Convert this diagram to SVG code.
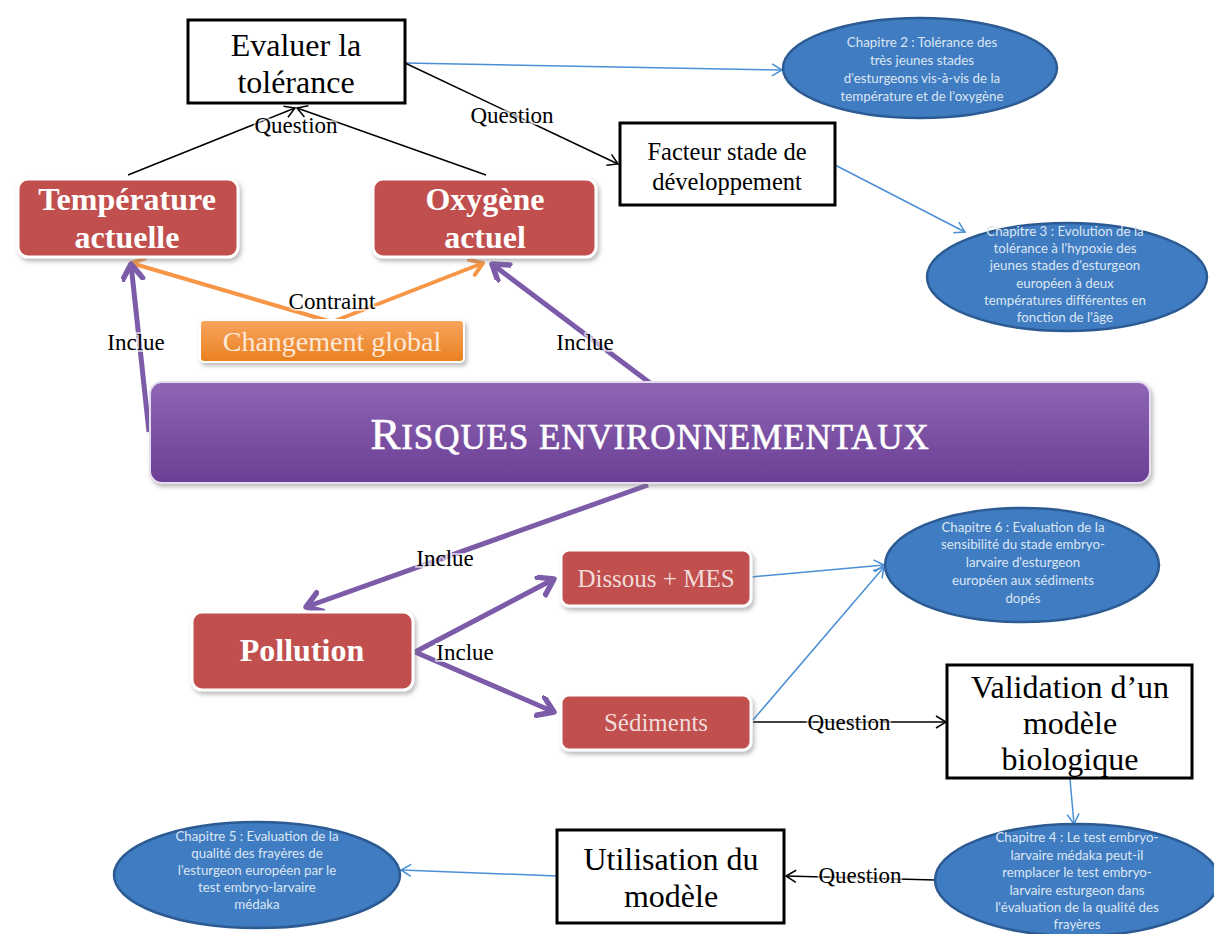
<svg xmlns="http://www.w3.org/2000/svg" width="1214" height="934" viewBox="0 0 1214 934">
<defs>
<style>
.box{fill:#fff;stroke:#000;stroke-width:3}
.red{fill:#c0504d;stroke:#fff;stroke-width:3;filter:url(#sh)}
.ell{fill:#3f7cc2;stroke:#2c5a92;stroke-width:2.5}
.et{font-family:Lato,"Liberation Sans",sans-serif;font-size:13.3px;fill:#dce6f2;text-anchor:middle}
.st{font-family:"Liberation Serif",serif;text-anchor:middle}
.bt{font-family:"Liberation Serif",serif;font-size:32px;text-anchor:middle;fill:#000}
.rt{font-family:"Liberation Serif",serif;font-weight:bold;font-size:32px;text-anchor:middle;fill:#fff}
.lbl{font-family:"Liberation Serif",serif;font-size:23px;text-anchor:middle;fill:#000;stroke:#fff;stroke-opacity:0.6;stroke-width:4;paint-order:stroke}
.pur{stroke:#7c5ca9;stroke-width:5;fill:none;marker-end:url(#ap)}
.org{stroke:#f79646;stroke-width:4;fill:none;marker-end:url(#ao)}
.blk{stroke:#000;stroke-width:1.5;fill:none;marker-end:url(#ak)}
.blu{stroke:#4a8fd6;stroke-width:1.5;fill:none;marker-end:url(#ab)}
</style>
<filter id="sh" x="-10%" y="-10%" width="125%" height="135%">
<feDropShadow dx="2" dy="3" stdDeviation="2" flood-color="#777" flood-opacity="0.5"/>
</filter>
<linearGradient id="gp" x1="0" y1="0" x2="0" y2="1">
<stop offset="0" stop-color="#8e66b4"/><stop offset="1" stop-color="#6b3f95"/>
</linearGradient>
<linearGradient id="go" x1="0" y1="0" x2="0" y2="1">
<stop offset="0" stop-color="#f9a55f"/><stop offset="1" stop-color="#e9801f"/>
</linearGradient>
<marker id="ap" markerUnits="userSpaceOnUse" markerWidth="30" markerHeight="30" refX="17" refY="11" orient="auto">
<path d="M2,1 L17,11 L2,21" fill="none" stroke="#7c5ca9" stroke-width="5.5" stroke-linecap="round" stroke-linejoin="round"/>
</marker>
<marker id="ao" markerUnits="userSpaceOnUse" markerWidth="30" markerHeight="30" refX="14" refY="9" orient="auto">
<path d="M2,1 L14,9 L2,17" fill="none" stroke="#f79646" stroke-width="4" stroke-linecap="round" stroke-linejoin="round"/>
</marker>
<marker id="ak" markerUnits="userSpaceOnUse" markerWidth="16" markerHeight="16" refX="11" refY="7" orient="auto">
<path d="M1,1 L11,7 L1,13" fill="none" stroke="#000" stroke-width="1.5"/>
</marker>
<marker id="ab" markerUnits="userSpaceOnUse" markerWidth="16" markerHeight="16" refX="11" refY="7" orient="auto">
<path d="M1,1 L11,7 L1,13" fill="none" stroke="#4a8fd6" stroke-width="1.5"/>
</marker>
</defs>
<rect width="1214" height="934" fill="#fff"/>

<g id="connectors">
<path class="blu" d="M405,63 L782,70"/>
<path class="blk" d="M405,63 L618,164"/>
<path class="blk" d="M128,175 L295,108"/>
<path class="blk" d="M486,175 L297,108"/>
<path class="blu" d="M835,165 L965,232"/>
<path class="org" d="M332,322 L131,263"/>
<path class="org" d="M332,322 L483,263"/>
<path class="pur" d="M149,432 L131,264"/>
<path class="pur" d="M650,383 L492,264"/>
<path class="pur" d="M648,485 L306,607"/>
<path class="pur" d="M415,652 L554,579"/>
<path class="pur" d="M415,652 L554,712"/>
<path class="blu" d="M751,577 L884,565"/>
<path class="blu" d="M753,720 L884,567"/>
<path class="blk" d="M753,722 L946,722"/>
<path class="blu" d="M1070,779 L1074,824"/>
<path class="blk" d="M935,880 L786,876"/>
<path class="blu" d="M557,876 L401,870"/>
</g>

<g id="labels">
<text class="lbl" x="296" y="133">Question</text>
<text class="lbl" x="512" y="123">Question</text>
<text class="lbl" x="332" y="309">Contraint</text>
<text class="lbl" x="136" y="350">Inclue</text>
<text class="lbl" x="585" y="350">Inclue</text>
<text class="lbl" x="445" y="566">Inclue</text>
<text class="lbl" x="465" y="660">Inclue</text>
<text class="lbl" x="849" y="730">Question</text>
<text class="lbl" x="860" y="883">Question</text>
</g>

<g id="evaluer">
<rect class="box" x="188" y="20" width="217" height="83"/>
<text class="bt" x="296" y="56">Evaluer la</text>
<text class="bt" x="296" y="93">tolérance</text>
</g>

<g id="ch2">
<ellipse class="ell" cx="920" cy="68" rx="137" ry="50"/>
<text class="et" x="922" y="47">Chapitre 2 : Tolérance des</text>
<text class="et" x="922" y="65">très jeunes stades</text>
<text class="et" x="922" y="83">d'esturgeons vis-à-vis de la</text>
<text class="et" x="922" y="101">température et de l'oxygène</text>
</g>

<g id="facteur">
<rect class="box" x="620" y="123" width="215" height="82"/>
<text class="st" x="727" y="160" font-size="24.5">Facteur stade de</text>
<text class="st" x="727" y="190" font-size="24.5">développement</text>
</g>

<g id="ch3">
<ellipse class="ell" cx="1067" cy="277" rx="140" ry="54"/>
<text class="et" x="1065" y="236">Chapitre 3 : Evolution de la</text>
<text class="et" x="1065" y="253">tolérance à l'hypoxie des</text>
<text class="et" x="1065" y="270">jeunes stades d'esturgeon</text>
<text class="et" x="1065" y="288">européen à deux</text>
<text class="et" x="1065" y="305">températures différentes en</text>
<text class="et" x="1065" y="322">fonction de l'âge</text>
</g>

<g id="temperature">
<rect class="red" x="18" y="179" width="220" height="78" rx="10"/>
<text class="rt" x="127" y="210">Température</text>
<text class="rt" x="127" y="248">actuelle</text>
</g>

<g id="oxygene">
<rect class="red" x="373" y="179" width="223" height="78" rx="10"/>
<text class="rt" x="485" y="210">Oxygène</text>
<text class="rt" x="485" y="248">actuel</text>
</g>

<g id="changement">
<rect x="200" y="320" width="264" height="42" rx="4" fill="url(#go)" stroke="#fff" stroke-width="2" filter="url(#sh)"/>
<text class="st" x="332" y="351" font-size="28" fill="#fde9d9">Changement global</text>
</g>

<g id="risques">
<rect x="150" y="382" width="1000" height="101" rx="12" fill="url(#gp)" stroke="#e6dcef" stroke-width="2" filter="url(#sh)"/>
<text class="st" x="650" y="449" fill="#fff" stroke="#fff" stroke-width="0.6" letter-spacing="0.9"><tspan font-size="45">R</tspan><tspan font-size="35">ISQUES ENVIRONNEMENTAUX</tspan></text>
</g>

<g id="pollution">
<rect class="red" x="192" y="612" width="221" height="78" rx="10"/>
<text class="rt" x="302" y="661" font-size="32">Pollution</text>
</g>

<g id="dissous">
<rect class="red" x="561" y="550" width="190" height="56" rx="8"/>
<text class="st" x="656" y="587" font-size="25" fill="#f2dcdb">Dissous + MES</text>
</g>

<g id="sediments">
<rect class="red" x="561" y="695" width="190" height="55" rx="8"/>
<text class="st" x="656" y="731" font-size="25" fill="#f2dcdb">Sédiments</text>
</g>

<g id="ch6">
<ellipse class="ell" cx="1022" cy="565" rx="137" ry="57"/>
<text class="et" x="1023" y="532">Chapitre 6 : Evaluation de la</text>
<text class="et" x="1023" y="549">sensibilité du stade embryo-</text>
<text class="et" x="1023" y="567">larvaire d'esturgeon</text>
<text class="et" x="1023" y="585">européen aux sédiments</text>
<text class="et" x="1023" y="603">dopés</text>
</g>

<g id="validation">
<rect class="box" x="947" y="665" width="245" height="113"/>
<text class="bt" x="1070" y="698">Validation d’un</text>
<text class="bt" x="1070" y="734">modèle</text>
<text class="bt" x="1070" y="770">biologique</text>
</g>

<g id="ch4">
<ellipse class="ell" cx="1077" cy="880" rx="142" ry="56"/>
<text class="et" x="1077" y="842">Chapitre 4 : Le test embryo-</text>
<text class="et" x="1077" y="860">larvaire médaka peut-il</text>
<text class="et" x="1077" y="877">remplacer le test embryo-</text>
<text class="et" x="1077" y="895">larvaire esturgeon dans</text>
<text class="et" x="1077" y="912">l'évaluation de la qualité des</text>
<text class="et" x="1077" y="929">frayères</text>
</g>

<g id="utilisation">
<rect class="box" x="557" y="830" width="227" height="93"/>
<text class="bt" x="671" y="870">Utilisation du</text>
<text class="bt" x="671" y="907">modèle</text>
</g>

<g id="ch5">
<ellipse class="ell" cx="257" cy="875" rx="143" ry="53"/>
<text class="et" x="257" y="841">Chapitre 5 : Evaluation de la</text>
<text class="et" x="257" y="858">qualité des frayères de</text>
<text class="et" x="257" y="875">l'esturgeon européen par le</text>
<text class="et" x="257" y="892">test embryo-larvaire</text>
<text class="et" x="257" y="909">médaka</text>
</g>
</svg>
